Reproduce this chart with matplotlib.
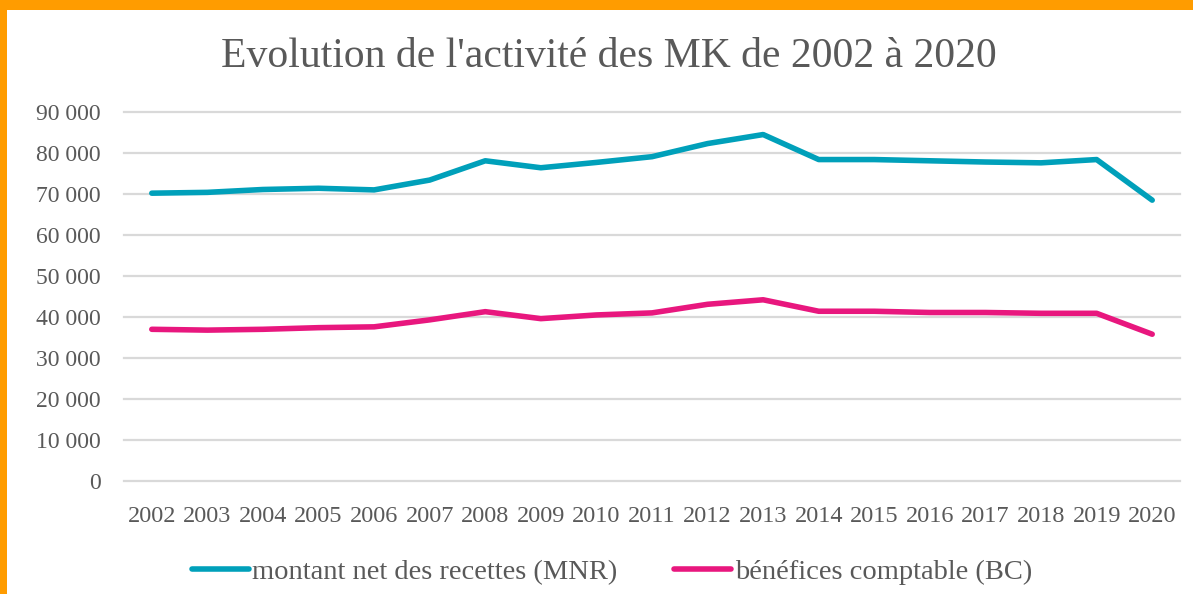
import matplotlib
matplotlib.use("Agg")
import matplotlib.pyplot as plt
from matplotlib.ticker import FuncFormatter
from matplotlib.patches import Rectangle

years = [str(y) for y in range(2002, 2021)]
mnr = [70200, 70400, 71100, 71400, 71000, 73400, 78100, 76400, 77700, 79100,
       82300, 84500, 78400, 78400, 78100, 77800, 77600, 78400, 68500]
bc = [37000, 36800, 37000, 37400, 37600, 39300, 41300, 39600, 40500, 41000,
      43100, 44200, 41400, 41400, 41100, 41100, 40900, 40900, 35800]
yticks = list(range(0, 90001, 10000))

title = "Evolution de l'activité des MK de 2002 à 2020"
label_mnr = "montant net des recettes (MNR)"
label_bc = "bénéfices comptable (BC)"

plt.rcParams['font.family'] = ['Liberation Serif', 'DejaVu Serif']
txt = '#595959'

fig = plt.figure(figsize=(11.93, 5.94), dpi=100)
fig.patch.set_facecolor('white')
# orange frame (top and left)
fig.add_artist(Rectangle((0, 1 - 10 / 594), 1, 10 / 594, transform=fig.transFigure,
                         facecolor='#FF9C00', edgecolor='none', zorder=10))
fig.add_artist(Rectangle((0, 0), 7.5 / 1193, 1, transform=fig.transFigure,
                         facecolor='#FF9C00', edgecolor='none', zorder=10))

ax = fig.add_axes([124 / 1193, 1 - 481 / 594, (1180 - 124) / 1193, (481 - 112) / 594])
x = list(range(len(years)))
ax.plot(x, mnr, color='#00A0BA', lw=4.0, solid_capstyle='round', label=label_mnr, zorder=3)
ax.plot(x, bc, color='#E8177E', lw=4.0, solid_capstyle='round', label=label_bc, zorder=3)

ax.set_xlim(-0.5, len(years) - 0.5)
ax.set_ylim(0, 90000)
ax.set_yticks(yticks)
ax.yaxis.set_major_formatter(FuncFormatter(lambda v, p: f"{int(v):,}".replace(",", " ")))
ax.set_xticks(x)
ax.set_xticklabels(years)
for s in ax.spines.values():
    s.set_visible(False)
ax.grid(axis='y', color='#D9D9D9', lw=1.6)
for gl in ax.get_ygridlines():
    gl.set_clip_on(False)
ax.tick_params(axis='both', length=0, colors=txt)
ax.tick_params(axis='y', labelsize=17, pad=17)
ax.tick_params(axis='x', labelsize=17.5, pad=18)

fig.text(0.51, 1 - 57 / 594, title, ha='center', va='center', fontsize=30, color=txt)

leg = fig.legend(loc='center', bbox_to_anchor=(0.513, 1 - 572 / 594), ncol=2, frameon=False,
                 fontsize=20.5, handlelength=2.0, handletextpad=0.12, columnspacing=2.0)
for t in leg.get_texts():
    t.set_color(txt)

fig.savefig('out.png', dpi=100, facecolor='white')
